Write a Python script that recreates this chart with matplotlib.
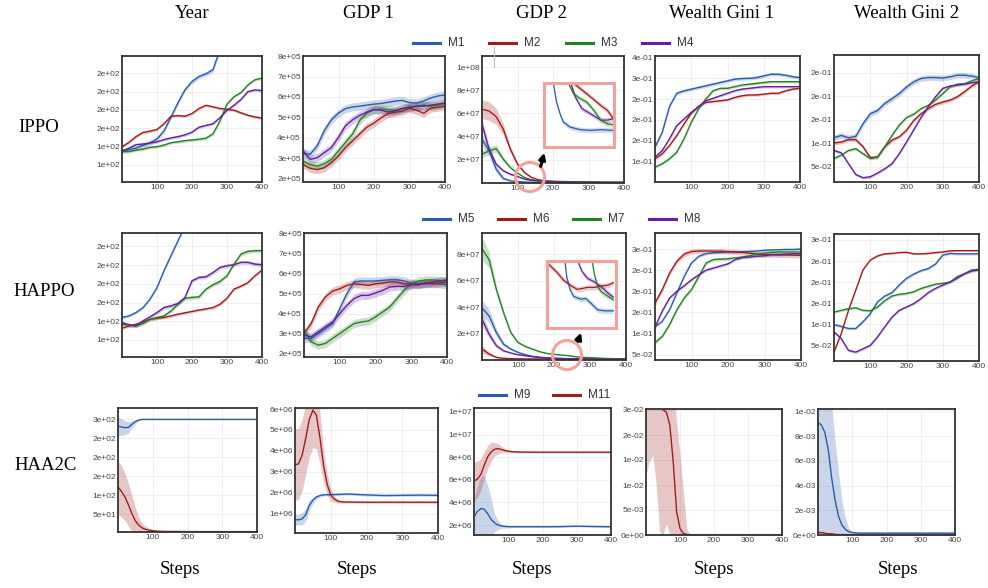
import numpy as np
import matplotlib.pyplot as plt
from matplotlib.lines import Line2D
from matplotlib.patches import Ellipse, FancyArrowPatch

W, H = 988, 588
BLUE, RED, GREEN, PURPLE = '#2a5caa', '#a31c1c', '#248224', '#66209e'
colors4 = [BLUE, RED, GREEN, PURPLE]
colors2 = [BLUE, RED]

columns = ['Year', 'GDP 1', 'GDP 2', 'Wealth Gini 1', 'Wealth Gini 2']
rows = ['IPPO', 'HAPPO', 'HAA2C']
legend_rows = [['M1', 'M2', 'M3', 'M4'], ['M5', 'M6', 'M7', 'M8'], ['M9', 'M11']]

steps = np.arange(0, 401, 20)
steps_haa2c = np.array([0, 10, 20, 30, 40, 50, 60, 70, 80, 90, 100, 110, 120,
                        130, 140, 150, 200, 250, 300, 350, 400])

# ---------------- IPPO (M1 blue, M2 red, M3 green, M4 purple)
ippo_year = [
    [135, 136.5, 138, 141, 144, 148, 157, 172, 188, 202, 211, 216.5, 219.5, 224, 246, 262, 276, 290, 303, 314, 324],
    [139.6, 144.4, 150.7, 155.2, 156.7, 158.5, 164.8, 173, 173.7, 173, 176, 181.5, 185, 183.3, 181.5, 180.7, 179.6, 176.7, 174, 172.2, 171],
    [134.4, 134.4, 136, 137, 139, 139.6, 141.5, 144, 145, 146.3, 147, 147.8, 149, 153.7, 167.8, 186.3, 194.4, 199, 207.4, 213, 214.8],
    [135, 138, 141.9, 142.6, 143.7, 145, 147.4, 149.3, 150.7, 152.6, 155.6, 161, 163, 164.8, 171.5, 179.6, 185, 191.5, 200, 201.9, 201],
]
ippo_year_band = [2.5, 1.5, 1.5, 1.5]

ippo_gdp1 = [  # x 1e5
    [3.22, 3.19, 3.6, 4.35, 4.88, 5.21, 5.43, 5.51, 5.55, 5.6, 5.65, 5.68, 5.74, 5.8, 5.83, 5.72, 5.7, 5.8, 5.95, 6.05, 6.1],
    [2.69, 2.5, 2.44, 2.53, 2.78, 3.11, 3.52, 3.85, 4.19, 4.52, 4.72, 4.98, 5.18, 5.25, 5.3, 5.45, 5.35, 5.2, 5.45, 5.5, 5.55],
    [2.86, 2.69, 2.61, 2.73, 2.94, 3.36, 3.77, 4.19, 4.85, 5.21, 5.38, 5.41, 5.38, 5.35, 5.43, 5.5, 5.55, 5.6, 5.55, 5.6, 5.7],
    [3.36, 2.94, 3.02, 3.27, 3.52, 4.02, 4.6, 4.88, 5.1, 5.26, 5.38, 5.35, 5.26, 5.31, 5.43, 5.5, 5.55, 5.55, 5.6, 5.65, 5.7],
]
ippo_gdp1_band = [0.2, 0.2, 0.2, 0.2]

ippo_gdp2 = [  # x 1e7
    [3.77, 2.77, 1.19, 0.39, 0.19, 0.12, 0.08, 0.06, 0.05, 0.05, 0.04, 0.04, 0.04, 0.04, 0.04, 0.04, 0.04, 0.04, 0.04, 0.04, 0.04],
    [6.36, 6.21, 5.72, 4.63, 2.91, 1.62, 0.9, 0.47, 0.27, 0.19, 0.15, 0.13, 0.12, 0.11, 0.1, 0.09, 0.08, 0.07, 0.06, 0.06, 0.05],
    [2.48, 2.77, 2.97, 2.05, 1.33, 0.85, 0.47, 0.27, 0.2, 0.15, 0.12, 0.1, 0.09, 0.08, 0.07, 0.07, 0.06, 0.06, 0.05, 0.05, 0.05],
    [5.06, 2.91, 1.62, 1.05, 0.76, 0.56, 0.33, 0.22, 0.17, 0.13, 0.1, 0.09, 0.08, 0.07, 0.07, 0.06, 0.06, 0.05, 0.05, 0.05, 0.05],
]
ippo_gdp2_band = [
    [0.5, 0.4, 0.3, 0.15, 0.05, 0.03, 0.02, 0.02, 0.02, 0.02, 0.02, 0.02, 0.02, 0.02, 0.02, 0.02, 0.02, 0.02, 0.02, 0.02, 0.02],
    [0.8, 0.8, 0.7, 0.5, 0.3, 0.2, 0.1, 0.05, 0.03, 0.02, 0.02, 0.02, 0.02, 0.02, 0.02, 0.02, 0.02, 0.02, 0.02, 0.02, 0.02],
    [0.3, 0.35, 0.3, 0.2, 0.1, 0.06, 0.04, 0.03, 0.02, 0.02, 0.02, 0.02, 0.02, 0.02, 0.02, 0.02, 0.02, 0.02, 0.02, 0.02, 0.02],
    [0.5, 0.3, 0.15, 0.1, 0.08, 0.05, 0.03, 0.02, 0.02, 0.02, 0.02, 0.02, 0.02, 0.02, 0.02, 0.02, 0.02, 0.02, 0.02, 0.02, 0.02],
]

ippo_gini1 = [
    [0.134, 0.17, 0.232, 0.264, 0.27, 0.274, 0.278, 0.282, 0.286, 0.29, 0.294, 0.298, 0.2996, 0.30, 0.302, 0.306, 0.31, 0.31, 0.3076, 0.304, 0.302],
    [0.106, 0.118, 0.138, 0.162, 0.19, 0.216, 0.232, 0.242, 0.244, 0.246, 0.248, 0.254, 0.258, 0.26, 0.26, 0.262, 0.264, 0.264, 0.27, 0.274, 0.276],
    [0.086, 0.094, 0.106, 0.122, 0.154, 0.194, 0.226, 0.25, 0.27, 0.276, 0.276, 0.28, 0.284, 0.286, 0.288, 0.29, 0.292, 0.292, 0.292, 0.292, 0.292],
    [0.11, 0.126, 0.154, 0.186, 0.202, 0.218, 0.232, 0.246, 0.252, 0.258, 0.264, 0.27, 0.274, 0.276, 0.278, 0.28, 0.28, 0.28, 0.28, 0.28, 0.28],
]
ippo_gini1_band = [0.004, 0.003, 0.003, 0.003]

ippo_gini2 = [
    [0.112, 0.117, 0.112, 0.115, 0.142, 0.163, 0.17, 0.185, 0.195, 0.206, 0.22, 0.231, 0.238, 0.24, 0.24, 0.239, 0.2415, 0.245, 0.245, 0.243, 0.24],
    [0.101, 0.103, 0.108, 0.108, 0.093, 0.07, 0.071, 0.093, 0.107, 0.114, 0.128, 0.149, 0.163, 0.174, 0.183, 0.188, 0.192, 0.199, 0.21, 0.222, 0.231],
    [0.068, 0.075, 0.085, 0.089, 0.078, 0.068, 0.071, 0.093, 0.117, 0.139, 0.155, 0.162, 0.174, 0.181, 0.192, 0.206, 0.22, 0.226, 0.227, 0.233, 0.238],
    [0.085, 0.08, 0.057, 0.034, 0.027, 0.029, 0.037, 0.046, 0.057, 0.078, 0.103, 0.129, 0.155, 0.178, 0.199, 0.217, 0.222, 0.224, 0.226, 0.229, 0.231],
]
ippo_gini2_band = [0.006, 0.004, 0.003, 0.003]

# ---------------- HAPPO (M5 blue, M6 red, M7 green, M8 purple)
happo_year = [
    [144, 145.7, 149.3, 154.6, 163.6, 176, 194, 210, 226, 242, 258, 274, 290, 305, 320, 335, 350, 365, 380, 395, 410],
    [132.5, 135, 136.8, 139.3, 142, 143.2, 144, 145.7, 147.5, 149, 150.5, 152, 153.2, 154.6, 158.2, 164.6, 174.3, 177.5, 181.4, 188.6, 194.6],
    [136.8, 136, 135, 137.5, 142, 144, 145.7, 151, 158.2, 164.6, 165.4, 166, 174.3, 179, 182.5, 188.6, 201, 211.8, 214.6, 215.4, 215.4],
    [138.6, 136, 135, 140.4, 144.6, 149.3, 154.6, 156.4, 159, 165.4, 183.2, 186.8, 187.5, 192, 197.5, 199.3, 200.4, 202.9, 202.9, 201, 200.4],
]
happo_year_band = [1.5, 1.5, 2.0, 2.0]

happo_gdp1 = [
    [2.78, 2.78, 3.02, 3.27, 3.52, 4.27, 5.02, 5.6, 5.65, 5.65, 5.65, 5.68, 5.71, 5.71, 5.65, 5.55, 5.5, 5.5, 5.55, 5.5, 5.45],
    [3.02, 3.52, 4.35, 4.85, 5.15, 5.26, 5.43, 5.51, 5.48, 5.43, 5.51, 5.55, 5.6, 5.6, 5.51, 5.5, 5.45, 5.55, 5.5, 5.55, 5.6],
    [3.19, 2.61, 2.44, 2.53, 2.78, 3.02, 3.27, 3.52, 3.6, 3.65, 3.85, 4.1, 4.35, 4.77, 5.18, 5.5, 5.65, 5.7, 5.7, 5.68, 5.65],
    [2.94, 2.86, 3.11, 3.36, 3.6, 4.02, 4.43, 4.77, 4.93, 4.93, 5.05, 5.18, 5.35, 5.38, 5.38, 5.45, 5.5, 5.55, 5.6, 5.65, 5.7],
]
happo_gdp1_band = [0.2, 0.2, 0.2, 0.2]

happo_gdp2 = [
    [3.95, 3.33, 2.08, 1.2, 0.83, 0.58, 0.4, 0.28, 0.2, 0.15, 0.12, 0.1, 0.08, 0.07, 0.06, 0.06, 0.05, 0.05, 0.05, 0.05, 0.05],
    [0.83, 0.45, 0.2, 0.13, 0.1, 0.09, 0.08, 0.08, 0.08, 0.08, 0.08, 0.08, 0.08, 0.08, 0.08, 0.08, 0.08, 0.08, 0.08, 0.08, 0.08],
    [8.45, 7.58, 5.33, 3.58, 2.08, 1.33, 1.03, 0.83, 0.63, 0.5, 0.43, 0.38, 0.33, 0.25, 0.2, 0.18, 0.15, 0.12, 0.1, 0.08, 0.06],
    [3.08, 1.95, 1.08, 0.7, 0.53, 0.4, 0.33, 0.25, 0.2, 0.17, 0.14, 0.12, 0.1, 0.09, 0.08, 0.07, 0.07, 0.06, 0.06, 0.06, 0.06],
]
happo_gdp2_band = [
    [0.6, 0.5, 0.3, 0.15, 0.08, 0.05, 0.04, 0.03, 0.02, 0.02, 0.02, 0.02, 0.02, 0.02, 0.02, 0.02, 0.02, 0.02, 0.02, 0.02, 0.02],
    [0.3, 0.15, 0.05, 0.03, 0.02, 0.02, 0.02, 0.02, 0.02, 0.02, 0.02, 0.02, 0.02, 0.02, 0.02, 0.02, 0.02, 0.02, 0.02, 0.02, 0.02],
    [0.9, 0.6, 0.3, 0.2, 0.12, 0.08, 0.06, 0.05, 0.04, 0.03, 0.03, 0.03, 0.03, 0.03, 0.03, 0.03, 0.03, 0.03, 0.03, 0.03, 0.03],
    [0.5, 0.3, 0.15, 0.08, 0.05, 0.04, 0.03, 0.02, 0.02, 0.02, 0.02, 0.02, 0.02, 0.02, 0.02, 0.02, 0.02, 0.02, 0.02, 0.02, 0.02],
]

happo_gini1 = [
    [0.1155, 0.129, 0.156, 0.196, 0.235, 0.267, 0.283, 0.289, 0.2913, 0.292, 0.293, 0.293, 0.2937, 0.2945, 0.2953, 0.297, 0.2977, 0.2984, 0.299, 0.299, 0.30],
    [0.172, 0.204, 0.243, 0.271, 0.288, 0.294, 0.2953, 0.2953, 0.295, 0.295, 0.294, 0.293, 0.292, 0.29, 0.288, 0.287, 0.2865, 0.286, 0.286, 0.2855, 0.285],
    [0.078, 0.093, 0.121, 0.156, 0.184, 0.204, 0.235, 0.267, 0.275, 0.276, 0.277, 0.279, 0.281, 0.284, 0.288, 0.2905, 0.292, 0.293, 0.293, 0.293, 0.293],
    [0.115, 0.153, 0.184, 0.2, 0.213, 0.227, 0.239, 0.25, 0.255, 0.26, 0.265, 0.275, 0.28, 0.281, 0.283, 0.284, 0.2866, 0.287, 0.288, 0.289, 0.289],
]
happo_gini1_band = [0.003, 0.006, 0.004, 0.003]

happo_gini2 = [
    [0.099, 0.095, 0.09, 0.09, 0.106, 0.125, 0.153, 0.167, 0.175, 0.193, 0.209, 0.219, 0.227, 0.232, 0.243, 0.264, 0.268, 0.267, 0.267, 0.267, 0.267],
    [0.034, 0.078, 0.133, 0.181, 0.229, 0.252, 0.262, 0.267, 0.268, 0.27, 0.2706, 0.267, 0.267, 0.268, 0.27, 0.2714, 0.274, 0.2746, 0.2746, 0.2746, 0.2746],
    [0.129, 0.133, 0.137, 0.139, 0.133, 0.132, 0.141, 0.156, 0.167, 0.171, 0.173, 0.177, 0.185, 0.19, 0.195, 0.197, 0.2, 0.213, 0.22, 0.229, 0.23],
    [0.082, 0.066, 0.038, 0.034, 0.042, 0.05, 0.07, 0.094, 0.117, 0.133, 0.141, 0.149, 0.161, 0.175, 0.185, 0.193, 0.2, 0.209, 0.22, 0.226, 0.229],
]
happo_gini2_band = [0.003, 0.002, 0.003, 0.003]

# ---------------- HAA2C (M9 blue, M11 red), on steps_haa2c
haa2c_year = [
    [282, 280, 278, 279, 287, 294, 298.5, 300, 300, 300, 300, 300, 300, 300, 300, 300, 300, 300, 300, 300, 300],
    [122, 110, 96, 75, 52, 33, 21, 14, 10.5, 8, 7, 6, 5.5, 5, 5, 5, 4.5, 4.5, 4.5, 4.5, 4.5],
]
haa2c_year_band = [
    [25, 22, 18, 15, 10, 5, 2, 1, 1, 1, 1, 1, 1, 1, 1, 1, 1, 1, 1, 1, 1],
    [70, 68, 62, 56, 48, 35, 20, 12, 8, 5, 3, 2, 1.5, 1, 1, 1, 0.5, 0.5, 0.5, 0.5, 0.5],
]

haa2c_gdp1 = [  # x 1e6
    [0.71, 0.71, 0.75, 0.95, 1.4, 1.65, 1.8, 1.87, 1.9, 1.91, 1.91, 1.92, 1.92, 1.93, 1.94, 1.94, 1.9, 1.87, 1.88, 1.89, 1.88],
    [3.34, 3.38, 3.8, 4.6, 5.5, 5.95, 5.7, 4.6, 3.3, 2.4, 1.9, 1.7, 1.6, 1.57, 1.56, 1.56, 1.55, 1.55, 1.55, 1.55, 1.55],
]
haa2c_gdp1_band = [
    [0.25, 0.25, 0.3, 0.3, 0.25, 0.15, 0.1, 0.07, 0.05, 0.05, 0.05, 0.05, 0.05, 0.05, 0.05, 0.05, 0.05, 0.05, 0.05, 0.05, 0.05],
    [1.7, 1.7, 1.7, 1.7, 1.8, 1.8, 1.6, 1.2, 0.8, 0.5, 0.3, 0.15, 0.1, 0.07, 0.05, 0.05, 0.05, 0.05, 0.05, 0.05, 0.05],
]

haa2c_gdp2 = [  # x 1e6
    [2.74, 3.2, 3.46, 3.4, 3.0, 2.5, 2.2, 2.0, 1.92, 1.88, 1.86, 1.85, 1.85, 1.85, 1.85, 1.85, 1.85, 1.86, 1.9, 1.87, 1.85],
    [5.88, 6.06, 6.47, 7.3, 8.03, 8.47, 8.7, 8.76, 8.68, 8.59, 8.53, 8.5, 8.47, 8.46, 8.45, 8.45, 8.44, 8.44, 8.44, 8.44, 8.44],
]
haa2c_gdp2_band = [
    [1.5, 2.2, 2.8, 3.0, 2.5, 1.8, 0.8, 0.4, 0.2, 0.15, 0.1, 0.08, 0.06, 0.05, 0.05, 0.05, 0.05, 0.05, 0.05, 0.05, 0.05],
    [1.7, 1.6, 1.4, 1.2, 1.0, 0.85, 0.6, 0.45, 0.3, 0.2, 0.15, 0.1, 0.08, 0.08, 0.08, 0.08, 0.08, 0.08, 0.08, 0.08, 0.08],
]

haa2c_gini1 = [
    [0.00003] * 21,
    [0.031, 0.030, 0.029, 0.028, 0.0262, 0.025, 0.0246, 0.022, 0.0147, 0.0047, 0.0013, 0.0003, 0.0001, 0.00005, 0, 0, 0, 0, 0, 0, 0],
]
haa2c_gini1_band = [
    0.0,
    [0.019, 0.0153, 0.013, 0.018, 0.0255, 0.025, 0.0223, 0.022, 0.016, 0.018, 0.0147, 0.0084, 0.001, 0.0002, 0.0001, 0.0001, 0, 0, 0, 0, 0],
]

haa2c_gini2 = [
    [0.0091, 0.0089, 0.0083, 0.0069, 0.0046, 0.0028, 0.0015, 0.0008, 0.00045, 0.00027, 0.0002, 0.00017, 0.00016, 0.00015, 0.00015, 0.00015, 0.00015, 0.00015, 0.00015, 0.00015, 0.00015],
    [0.0002, 0.0002, 0.00015, 0.0001, 0.0001, 0.00005, 0.00003, 0.00003, 0.00003, 0.00003, 0.00003, 0.00003, 0.00003, 0.00003, 0.00003, 0.00003, 0.00003, 0.00003, 0.00003, 0.00003, 0.00003],
]
haa2c_gini2_band = [
    [0.009, 0.0089, 0.0083, 0.0069, 0.006, 0.0047, 0.0036, 0.0019, 0.0009, 0.0003, 0.0001, 0.0001, 0.0001, 0.0001, 0.0001, 0.0001, 0.0001, 0.0001, 0.0001, 0.0001, 0.0001],
    0.00005,
]

# zoom insets (inset-local percent coordinates)
inset_ippo = {
    BLUE: ([10, 13, 17.6, 22.4, 27, 36.7, 51, 65, 79.5, 96], [115, 100, 70, 52, 39, 31, 27, 26, 27, 26]),
    RED: ([38, 41, 60, 79.5, 89, 96], [110, 100, 83, 65, 57, 46]),
    PURPLE: ([35, 37.6, 43.8, 53, 65, 79.5, 89, 96], [110, 100, 78, 60, 52, 42, 42, 44]),
    GREEN: ([32, 34, 41.4, 51, 60, 70, 79.5, 89, 96], [110, 100, 83, 75.5, 70, 57, 42, 36, 35]),
}
inset_happo = {
    RED: ([0, 3.9, 13.7, 23.4, 33, 43, 50, 57.6, 67, 77, 87, 94], [97, 93.6, 83.7, 71.4, 64, 57.6, 59, 60.6, 60.6, 62.6, 64, 67.5]),
    BLUE: ([25, 26, 28, 33, 38, 48, 55, 62.4, 72, 82, 94], [110, 95, 76, 57, 47, 43, 44, 37, 27, 25.6, 25.6]),
    PURPLE: ([44, 45.4, 50, 57.6, 67, 77, 87, 94], [110, 95, 84, 74, 69, 61.6, 52, 46]),
    GREEN: ([64, 65, 67, 72, 77, 87, 94], [110, 95, 81, 61.6, 54, 47, 42]),
}

# y axis settings per column / row
yt_year = ([120, 140, 160, 180, 200, 220], ['1e+02', '1e+02', '2e+02', '2e+02', '2e+02', '2e+02'])
yt_gdp1 = ([2, 3, 4, 5, 6, 7, 8], ['2e+05', '3e+05', '4e+05', '5e+05', '6e+05', '7e+05', '8e+05'])
yt_ippo_gdp2 = ([2, 4, 6, 8, 10], ['2e+07', '4e+07', '6e+07', '8e+07', '1e+08'])
yt_happo_gdp2 = ([2, 4, 6, 8], ['2e+07', '4e+07', '6e+07', '8e+07'])
yt_ippo_gini1 = ([0.10, 0.15, 0.20, 0.25, 0.30, 0.35], ['1e-01', '2e-01', '2e-01', '2e-01', '3e-01', '4e-01'])
yt_ippo_gini2 = ([0.05, 0.10, 0.15, 0.20, 0.25], ['5e-02', '1e-01', '2e-01', '2e-01', '2e-01'])
yt_happo_gini = ([0.05, 0.10, 0.15, 0.20, 0.25, 0.30], ['5e-02', '1e-01', '2e-01', '2e-01', '2e-01', '3e-01'])
yt_haa2c_year = ([50, 100, 150, 200, 250, 300], ['5e+01', '1e+02', '2e+02', '2e+02', '2e+02', '3e+02'])
yt_haa2c_gdp1 = ([1, 2, 3, 4, 5, 6], ['1e+06', '2e+06', '3e+06', '4e+06', '5e+06', '6e+06'])
yt_haa2c_gdp2 = ([2, 4, 6, 8, 10, 12], ['2e+06', '4e+06', '6e+06', '8e+06', '1e+07', '1e+07'])
yt_haa2c_gini1 = ([0, 0.005, 0.01, 0.015, 0.02, 0.025], ['0e+00', '5e-03', '1e-02', '1e-02', '2e-02', '3e-02'])
yt_haa2c_gini2 = ([0, 0.002, 0.004, 0.006, 0.008, 0.01], ['0e+00', '2e-03', '4e-03', '6e-03', '8e-03', '1e-02'])

panels = [
    [(steps, ippo_year, ippo_year_band, colors4, (101, 239), yt_year),
     (steps, ippo_gdp1, ippo_gdp1_band, colors4, (1.83, 8.01), yt_gdp1),
     (steps, ippo_gdp2, ippo_gdp2_band, colors4, (0, 10.95), yt_ippo_gdp2),
     (steps, ippo_gini1, ippo_gini1_band, colors4, (0.05, 0.354), yt_ippo_gini1),
     (steps, ippo_gini2, ippo_gini2_band, colors4, (0.018, 0.288), yt_ippo_gini2)],
    [(steps, happo_year, happo_year_band, colors4, (101.8, 234.3), yt_year),
     (steps, happo_gdp1, happo_gdp1_band, colors4, (1.85, 8.05), yt_gdp1),
     (steps, happo_gdp2, happo_gdp2_band, colors4, (0, 9.63), yt_happo_gdp2),
     (steps, happo_gini1, happo_gini1_band, colors4, (0.037, 0.338), yt_happo_gini),
     (steps, happo_gini2, happo_gini2_band, colors4, (0.013, 0.314), yt_happo_gini)],
    [(steps_haa2c, haa2c_year, haa2c_year_band, colors2, (3.5, 330), yt_haa2c_year),
     (steps_haa2c, haa2c_gdp1, haa2c_gdp1_band, colors2, (0.08, 6.05), yt_haa2c_gdp1),
     (steps_haa2c, haa2c_gdp2, haa2c_gdp2_band, colors2, (1.12, 12.35), yt_haa2c_gdp2),
     (steps_haa2c, haa2c_gini1, haa2c_gini1_band, colors2, (0, 0.0252), yt_haa2c_gini1),
     (steps_haa2c, haa2c_gini2, haa2c_gini2_band, colors2, (0, 0.0102), yt_haa2c_gini2)],
]

# axes boxes in pixels: left, top, right, bottom
boxes = [
    [(122, 56, 262, 182), (303, 56, 445, 182), (482, 56, 624, 183), (655, 56, 800, 182), (834, 55, 979, 182)],
    [(122, 233, 262, 357), (304, 233, 447, 357), (482, 233, 626, 360), (655, 233, 801, 360), (834, 234, 979, 361)],
    [(118, 408, 257, 532), (295, 408, 438, 533), (474, 408, 611, 535), (646, 409, 782, 535), (818, 409, 955, 535)],
]


def fx(x):
    return x / W


def fy(y):
    return 1 - y / H


def rect(l, t, r, b):
    return [l / W, 1 - b / H, (r - l) / W, (b - t) / H]


fig = plt.figure(figsize=(W / 100, H / 100), dpi=100)
tick_font = 'Liberation Sans'
axes = []

for r in range(3):
    row_axes = []
    for c in range(5):
        x, series, bands, cols, ylim, (yt, ytl) = panels[r][c]
        ax = fig.add_axes(rect(*boxes[r][c]))
        for y, b, col in zip(series, bands, cols):
            y = np.asarray(y, float)
            b = np.broadcast_to(np.asarray(b, float), y.shape)
            ax.fill_between(x, y - b, y + b, color=col, alpha=0.25, lw=0)
            ax.plot(x, y, color=col, lw=1.0)
        ax.set_xlim(0, 400)
        ax.set_ylim(*ylim)
        ax.set_xticks([100, 200, 300, 400])
        ax.set_yticks(yt)
        ax.set_yticklabels(ytl)
        ax.grid(True, color='#ececec', lw=0.6)
        ax.set_axisbelow(True)
        ax.tick_params(length=0, pad=1.5, labelsize=6, labelcolor='#444444')
        for lab in ax.get_xticklabels() + ax.get_yticklabels():
            lab.set_fontfamily(tick_font)
        for sp in ax.spines.values():
            sp.set_color('#333333')
            sp.set_linewidth(1.3)
        row_axes.append(ax)
    axes.append(row_axes)

# zoom insets in the GDP 2 panels
PINK = '#f2a29d'
for data, box, circ, arrow in [
    (inset_ippo, (544, 83, 614, 147), (530, 177), ((540, 169), (545, 150))),
    (inset_happo, (547, 261, 616, 328), (567, 355), ((577, 344), (582, 330))),
]:
    iax = fig.add_axes(rect(*box))
    for col, (xs, ys) in data.items():
        xs = np.asarray(xs, float)
        ys = np.asarray(ys, float)
        iax.fill_between(xs, ys - 4, ys + 4, color=col, alpha=0.22, lw=0)
        iax.plot(xs, ys, color=col, lw=0.9)
    iax.set_xlim(0, 98)
    iax.set_ylim(0, 100)
    iax.set_xticks([])
    iax.set_yticks([])
    for sp in iax.spines.values():
        sp.set_color(PINK)
        sp.set_linewidth(2.2)
    rad = 14.5
    fig.add_artist(Ellipse((fx(circ[0]), fy(circ[1])), 2 * rad / W, 2 * rad / H,
                           transform=fig.transFigure, fill=False, ec=PINK, lw=2.2))
    fig.add_artist(FancyArrowPatch((fx(arrow[0][0]), fy(arrow[0][1])),
                                   (fx(arrow[1][0]), fy(arrow[1][1])),
                                   transform=fig.transFigure, arrowstyle='-|>',
                                   mutation_scale=9, lw=2.2, color='black'))

# small grey mark above the IPPO GDP 2 panel
fig.add_artist(Line2D([fx(494)] * 2, [fy(47), fy(67)], color='#bbbbbb', lw=0.8,
                      transform=fig.transFigure))

# legends
legend_y = [43, 219, 395]
legend_x = [[413, 489, 566, 642], [423, 498, 573, 649], [479, 553]]
for names, ly, xs in zip(legend_rows, legend_y, legend_x):
    for name, lx, col in zip(names, xs, colors4):
        fig.add_artist(Line2D([fx(lx), fx(lx + 27)], [fy(ly)] * 2, color=col, lw=2.2,
                              transform=fig.transFigure))
        fig.text(fx(lx + 35), fy(ly), name, ha='left', va='center', fontsize=8.5,
                 family=tick_font, color='#333333')

# titles and labels
title_x = [192, 368, 541, 722, 907]
steps_x = [180, 357, 532, 714, 898]
for name, tx in zip(columns, title_x):
    fig.text(fx(tx), fy(14), name, ha='center', va='center', fontsize=13.5,
             family='Liberation Serif')
for sx in steps_x:
    fig.text(fx(sx), fy(569), 'Steps', ha='center', va='center', fontsize=13.5,
             family='Liberation Serif')
for name, (rx, ry) in zip(rows, [(39, 127), (44, 291), (46, 465)]):
    fig.text(fx(rx), fy(ry), name, ha='center', va='center', fontsize=13.5,
             family='Liberation Serif')

fig.savefig('out.png', dpi=100)
